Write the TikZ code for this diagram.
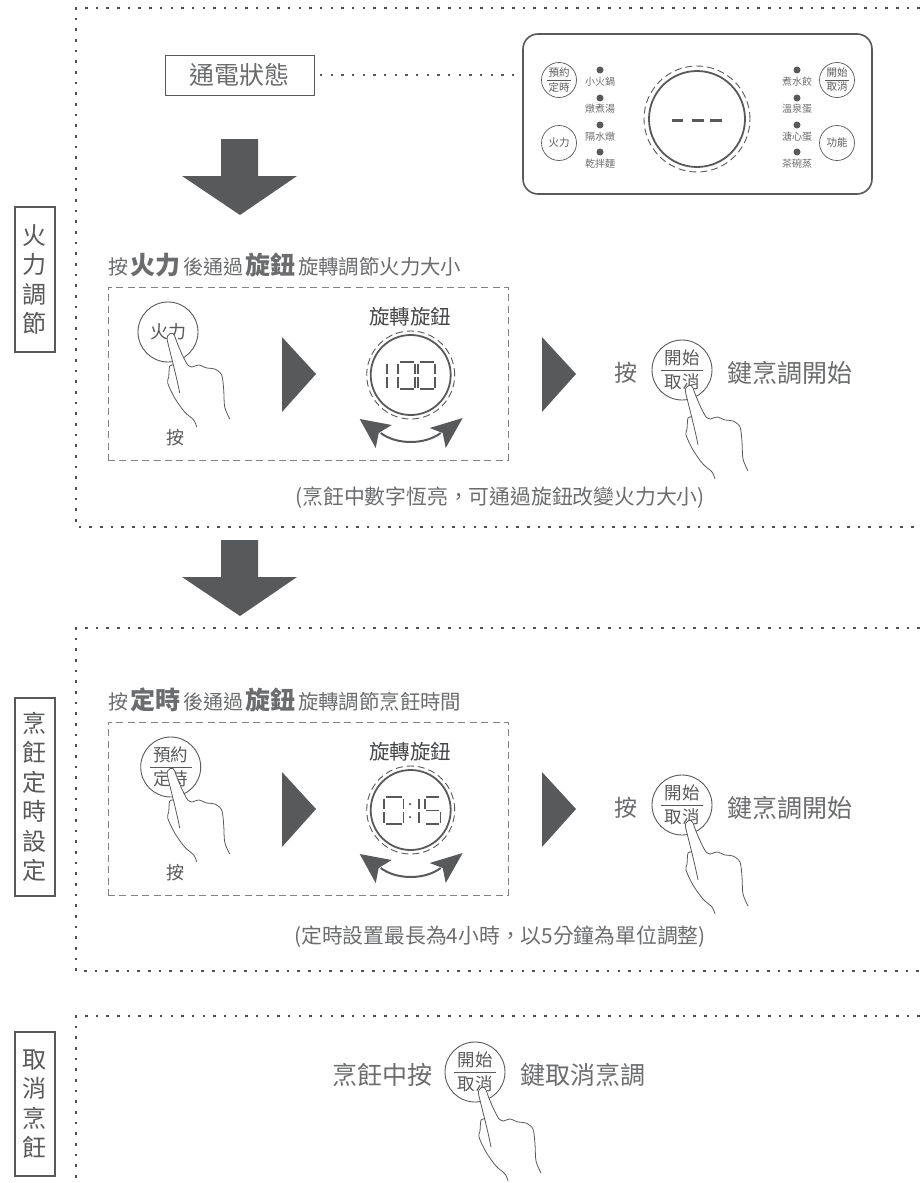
\documentclass[tikz,border=0pt]{standalone}
\usepackage{fontspec}
\setmainfont{Noto Sans CJK TC}
\usepackage{tikz}
\definecolor{inkdark}{HTML}{58595B}
\definecolor{inktext}{HTML}{6B6C6E}
\newcommand{\fsz}[1]{\fontsize{#1}{#1}\selectfont}
\tikzset{
  pics/hand/.style={code={
    \draw[handline,fill=white] (9,58) .. controls (6,42) and (0,20) .. (-3.5,5) .. controls (-4.5,-2) and (3,-4) .. (4,1) .. controls (7,10) and (13,24) .. (17,30);
    \draw[handline] plot[smooth] coordinates {(17,30) (21,32) (28,30) (36,33) (44,34) (51,40) (53,55) (54,72) (59,84)};
    \draw[handline] plot[smooth] coordinates {(3,30) (-1,31) (-2,42) (-3,48) (4,63) (14,77) (23,85) (26,92)};
  }},
  pics/bigbutton/.style n args={2}{code={
    \node[ringbig] (-ring) at (0,0) {};
    \draw[thinline] (-21,0) -- (21,0);
    \node[btntext] (-up) at (0,-12) {#1};
    \node[btntext] (-down) at (0,12) {#2};
  }},
  pics/smallbutton/.style n args={2}{code={
    \node[ringsmall] (-ring) at (0,0) {};
    \draw[thinline] (-12,0) -- (12,0);
    \node[smalltext] (-up) at (0,-7.5) {#1};
    \node[smalltext] (-down) at (0,7) {#2};
  }},
  pics/knob/.style={code={
    \node[knobring,minimum size=80pt] (-ring) at (0,0) {};
    \node[knobdash,minimum size=88pt] (-dash) at (0,0) {};
    \fill[inkdark] (-51,44) -- (-19,50) -- (-32,58) -- (-35,73) -- cycle;
    \fill[inkdark] (52,43) -- (19,53) -- (32,58) -- (35,73) -- cycle;
    \draw[inkdark,line width=2pt] (-30,58) .. controls (-14,70) and (14,70) .. (30,58);
  }},
  pics/segzero/.style={code={
    \draw[segline] (1.5,0) -- (15.5,0) (17,1.5) -- (17,12) (17,15) -- (17,25.5) (1.5,27) -- (15.5,27) (0,1.5) -- (0,12) (0,15) -- (0,25.5);
  }},
  pics/segone/.style={code={
    \draw[segline] (0,1.5) -- (0,12) (0,15) -- (0,25.5);
  }},
  pics/segfive/.style={code={
    \draw[segline] (1.5,0) -- (15.5,0) (0,1.5) -- (0,12) (1.5,13.5) -- (15.5,13.5) (17,15) -- (17,25.5) (1.5,27) -- (15.5,27);
  }},
  pics/bigdown/.style={code={
    \fill[inkdark] (221,0) -- (258,0) -- (258,37) -- (297,37) -- (240,76) -- (182,37) -- (221,37) -- cycle;
  }},
  pics/nextstep/.style={code={
    \fill[inkdark] (0,0) -- (34,37) -- (0,75) -- cycle;
  }},
}
\begin{document}
\begin{tikzpicture}[x=1pt,y=-1pt,
    every node/.style={text=inktext,inner sep=0pt,outer sep=0pt},
    dotframe/.style={color=inkdark!90!black,line width=2.6pt,dash pattern=on 2.6pt off 8.07pt},
    dotlink/.style={color=inkdark,line width=2.2pt,dash pattern=on 2.2pt off 8.47pt},
    dashbox/.style={draw=inkdark!75,line width=1pt,dash pattern=on 7pt off 4.4pt,minimum width=400pt,minimum height=173pt},
    sidebox/.style={draw=inkdark,text=inkdark,line width=1.3pt,minimum width=40pt,align=center,font=\fontsize{24}{29.5}\selectfont},
    handline/.style={draw=inkdark,line width=.8pt},
    thinline/.style={draw=inkdark,line width=.8pt},
    ringbig/.style={circle,draw=inkdark,line width=.9pt,minimum size=60pt},
    ringsmall/.style={circle,draw=inkdark,text=inkdark,line width=.7pt,minimum size=35pt},
    btntext/.style={text=inkdark,font=\fsz{17.5}},
    smalltext/.style={text=inkdark,font=\fsz{10.5}},
    knobring/.style={circle,draw=inkdark,line width=1.8pt},
    knobdash/.style={circle,draw=inkdark,line width=.9pt,dash pattern=on 7pt off 4pt},
    segline/.style={draw=inkdark,line width=1.5pt},
    ledlabel/.style={font=\fsz{10}},
    led/.style={circle,fill=inkdark,minimum size=7pt},
    turnlabel/.style={text=inkdark!80!black,font=\fsz{20.5}},
    presslabel/.style={text=inkdark,font=\fsz{18}},
  ]
  \useasboundingbox (0,0) rectangle (920,1183);
  % section frames
  \draw[dotframe] (920,8) -- (76,8) -- (76,527) -- (920,527);
  \draw[dotframe] (920,628) -- (76,628) -- (76,971) -- (920,971);
  \draw[dotframe] (920,1016) -- (76,1016) -- (76,1183);
  % side titles
  \node[sidebox,minimum height=145pt] (titlefire) at (35,279.5) {火\\力\\調\\節};
  \node[sidebox,minimum height=198pt] (titletimer) at (35,797) {烹\\飪\\定\\時\\設\\定};
  \node[sidebox,minimum height=144pt] (titlecancel) at (35,1104) {取\\消\\烹\\飪};
  % panel
  \node[draw=inkdark,line width=1.6pt,rounded corners=15pt,minimum width=349pt,minimum height=160pt] (panel) at (697.5,114) {};
  \node[draw=inkdark,line width=1pt,minimum width=149pt,minimum height=40pt,font=\fsz{25}] (status) at (239.5,75) {通電狀態};
  \draw[dotlink,shorten >=9pt,shorten <=6pt] (status) -- (status -| panel.west);
  \node[knobring,minimum size=96pt] (panelknob) at (697,119) {};
  \node[knobdash,minimum size=106pt] (panelring) at (697,119) {};
  \draw[inkdark,line width=3pt] (672,120) -- (683,120) (692,120) -- (704,120) (710,120) -- (722,120);
  \pic (btnbook) at (559,80) {smallbutton={預約}{定時}};
  \pic (btnstart) at (837,80) {smallbutton={開始}{取消}};
  \node[ringsmall,font=\fsz{10.5}] (btnfire) at (559,143) {火力};
  \node[ringsmall,font=\fsz{10.5}] (btnmenu) at (837,143) {功能};
  \node[led] (ledla) at (600,70) {};
  \node[led] (ledlb) at (600,98) {};
  \node[led] (ledlc) at (600,125) {};
  \node[led] (ledld) at (600,152) {};
  \node[led] (ledra) at (797,70) {};
  \node[led] (ledrb) at (797,98) {};
  \node[led] (ledrc) at (797,125) {};
  \node[led] (ledrd) at (797,152) {};
  \node[ledlabel] (textla) at (600,82) {小火鍋};
  \node[ledlabel] (textlb) at (600,109) {燉煮湯};
  \node[ledlabel] (textlc) at (600,137) {隔水燉};
  \node[ledlabel] (textld) at (600,164) {乾拌麵};
  \node[ledlabel] (textra) at (797,82) {煮水餃};
  \node[ledlabel] (textrb) at (797,109) {溫泉蛋};
  \node[ledlabel] (textrc) at (797,137) {溏心蛋};
  \node[ledlabel] (textrd) at (797,164) {茶碗蒸};
  % fire
  \pic at (0,139) {bigdown};
  \node[anchor=base west] (headfire) at (108,274) {\fsz{20}按\hspace{2pt}\fsz{25}\bfseries 火力\hspace{3pt}\fsz{20}\mdseries 後通過\hspace{2pt}\fsz{25}\bfseries 旋鈕\hspace{3pt}\fsz{20.4}\mdseries 旋轉調節火力大小};
  \node[dashbox] (boxfire) at (308,373.5) {};
  \node[ringbig,text=inkdark,font=\fsz{18}] (pressfire) at (168,332) {火力};
  \pic at (170.7,335) {hand};
  \node[presslabel] (pressa) at (175,438) {按};
  \pic at (282,337) {nextstep};
  \node[turnlabel] (turna) at (410,317) {旋轉旋鈕};
  \pic (knoba) at (410.7,375) {knob};
  \pic at (387,362) {segone};
  \pic at (398,362) {segzero};
  \pic at (418,362) {segzero};
  \pic at (542,337) {nextstep};
  \node[font=\fsz{23}] (pressb) at (626,373) {按};
  \pic (starta) at (682,370) {bigbutton={開始}{取消}};
  \pic at (689,387) {hand};
  \node[font=\fsz{25},anchor=west] (texta) at (727,373) {鍵烹調開始};
  \node[font=\fsz{20.8}] (notefire) at (500,498) {(烹飪中數字恆亮，可通過旋鈕改變火力大小)};
  % timer
  \pic at (0,540) {bigdown};
  \node[anchor=base west] (headtimer) at (108,709) {\fsz{20}按\hspace{2pt}\fsz{25}\bfseries 定時\hspace{3pt}\fsz{20}\mdseries 後通過\hspace{2pt}\fsz{25}\bfseries 旋鈕\hspace{3pt}\fsz{20.4}\mdseries 旋轉調節烹飪時間};
  \node[dashbox] (boxtimer) at (308,808.5) {};
  \pic (booka) at (170.7,767) {bigbutton={預約}{定時}};
  \pic at (170.7,770) {hand};
  \node[presslabel] (pressc) at (175,873) {按};
  \pic at (282,772) {nextstep};
  \node[turnlabel] (turnb) at (410,752) {旋轉旋鈕};
  \pic (knobb) at (410.7,810) {knob};
  \pic[xscale=1.15] at (384,797) {segzero};
  \node[circle,fill=inkdark,minimum size=2.5pt] (colona) at (410,804) {};
  \node[circle,fill=inkdark,minimum size=2.5pt] (colonb) at (410,817) {};
  \pic at (419,797) {segone};
  \pic[xscale=.9] at (425,797) {segfive};
  \pic at (542,772) {nextstep};
  \node[font=\fsz{23}] (pressd) at (626,808) {按};
  \pic (startb) at (682,805) {bigbutton={開始}{取消}};
  \pic at (689,822) {hand};
  \node[font=\fsz{25},anchor=west] (textb) at (727,808) {鍵烹調開始};
  \node[font=\fsz{20.8}] (notetimer) at (500,937) {(定時設置最長為4小時，以5分鐘為單位調整)};
  % cancel
  \node[font=\fsz{25},anchor=east] (textc) at (432,1075) {烹飪中按};
  \pic (startc) at (475,1072) {bigbutton={開始}{取消}};
  \pic at (482,1089) {hand};
  \node[font=\fsz{25},anchor=west] (textd) at (520,1075) {鍵取消烹調};
\end{tikzpicture}
\end{document}
